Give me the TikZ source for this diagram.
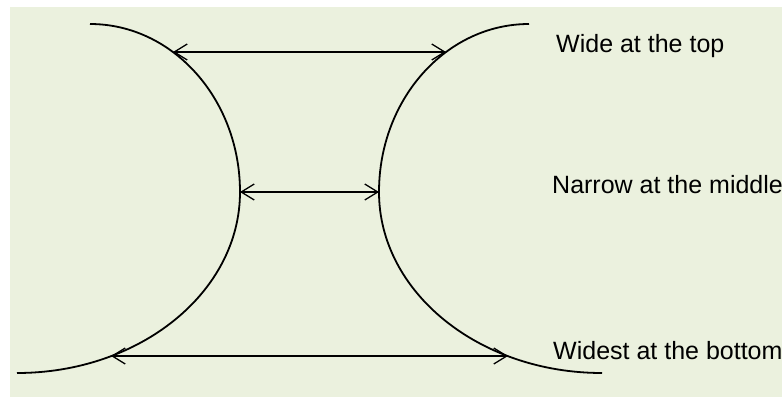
\documentclass[tikz,border=0pt]{standalone}
\usepackage{fontspec}
\setmainfont{Liberation Sans}
\usepackage{tikz}
\usetikzlibrary{arrows.meta,positioning}
\definecolor{paleolive}{RGB}{235,241,222}
\tikzset{sidecurve/.style={draw=black,line width=1.8pt},
  gap/.style={{Straight Barb[length=13pt,width=16pt]}-{Straight Barb[length=13pt,width=16pt]},line width=1.3pt},
  caption/.style={draw=none,color=black,anchor=base west,inner sep=0pt,font=\fontsize{25}{30}\selectfont}}

\begin{document}
\begin{tikzpicture}[x=1pt,y=-1pt]
        \useasboundingbox (0,0) rectangle (782,397);
        \fill[paleolive] (10,7) rectangle (782,397);

        \coordinate (midL) at (240,192);
        \coordinate (midR) at (379,192);

        % left side
        \draw[sidecurve] (midL) arc[start angle=0,end angle=90,x radius=150pt,y radius=168pt];
        \draw[sidecurve] (midL) arc[start angle=0,end angle=-90,x radius=223pt,y radius=181pt];
        % right side
        \draw[sidecurve] (midR) arc[start angle=180,end angle=90,x radius=150pt,y radius=168pt];
        \draw[sidecurve] (midR) arc[start angle=180,end angle=270,x radius=223pt,y radius=181pt];

        \coordinate (topL) at (173,52);
        \coordinate (topR) at (446,52);
        \coordinate (botL) at (111,356);
        \coordinate (botR) at (508,356);

        \draw[gap] (topL) -- (topR);
        \draw[gap] (midL) -- (midR);
        \draw[gap] (botL) -- (botR);

        \node[caption] (wide) at (556,52) {Wide at the top};
        \node[caption] (narrow) at (552,193) {Narrow at the middle};
        \node[caption] (widest) at (553,359) {Widest at the bottom};
\end{tikzpicture}
\end{document}
